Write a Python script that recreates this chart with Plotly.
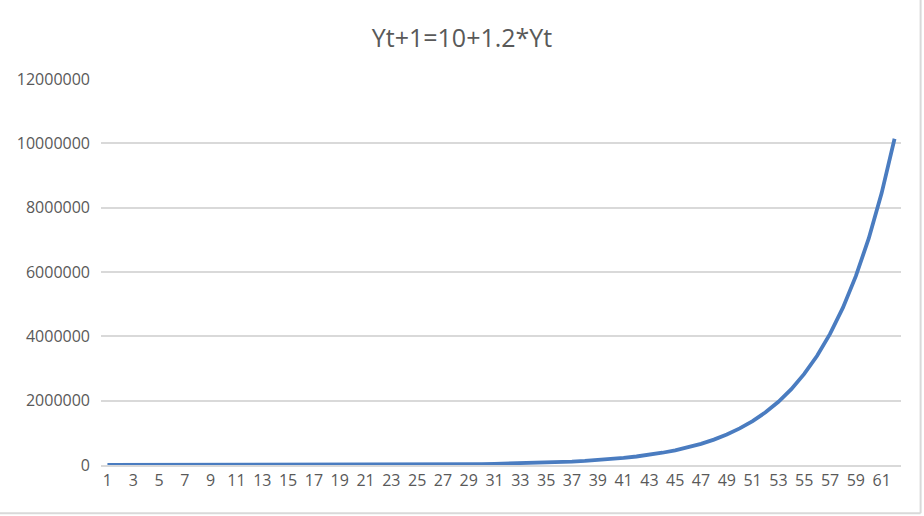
import plotly.graph_objects as go

periods = [str(i) for i in range(1, 63)]
values = [
    100, 130, 166, 209.2, 261.04, 323.25, 397.9, 487.48, 594.97, 723.97,
    878.76, 1064.51, 1287.42, 1554.9, 1875.88, 2261.05, 2723.26, 3277.92, 3943.5, 4742.2,
    5700.64, 6850.77, 8230.92, 9887.11, 11874.53, 14259.43, 17121.32, 20555.58, 24676.7, 29622.04,
    35556.45, 42677.74, 51223.28, 61477.94, 73783.53, 88550.23, 106270.28, 127534.34, 153051.21, 183671.45,
    220415.74, 264508.88, 317420.66, 380914.79, 457107.75, 548539.3, 658257.16, 789918.59, 947912.31, 1137504.77,
    1365015.72, 1638028.87, 1965644.64, 2358783.57, 2830550.28, 3396670.34, 4076014.41, 4891227.29, 5869482.75, 7043389.3,
    8452077.16, 10142502.59,
]
tick_labels = [str(i) for i in range(1, 63, 2)]
title_text = "Yt+1=10+1.2*Yt"

fig = go.Figure(go.Scatter(
    x=periods, y=values, mode="lines",
    line=dict(color="#4A7CC0", width=3.8),
    hoverinfo="x+y",
))

font_family = "Open Sans, Liberation Sans, sans-serif"
fig.update_layout(
    width=924, height=516,
    margin=dict(l=101, r=23, t=79, b=51),
    paper_bgcolor="white", plot_bgcolor="white",
    showlegend=False,
    title=dict(text=title_text, x=0.5, xanchor="center", y=0.926, yanchor="middle",
               font=dict(family=font_family, size=25, color="#595959")),
    font=dict(family=font_family, size=16, color="#595959"),
)
fig.update_xaxes(
    type="category", range=[-0.5, 61.5],
    tickmode="array", tickvals=tick_labels, ticktext=tick_labels,
    showgrid=False, showline=True, linecolor="#d9d9d9", linewidth=1.5,
    ticks="", tickfont=dict(size=16, color="#595959"), tickangle=0,
)
fig.update_yaxes(
    range=[0, 12000000], dtick=2000000, tickformat="d",
    showgrid=True, gridcolor="#d9d9d9", gridwidth=1.5,
    zeroline=False, showline=False, ticks="",
    tickfont=dict(size=16, color="#595959"), ticklabelstandoff=10,
)
fig.add_shape(type="line", xref="paper", yref="paper", x0=1.0245, x1=1.0245, y0=-0.125, y1=1.21,
              line=dict(color="#d9d9d9", width=2))
fig.add_shape(type="line", xref="paper", yref="paper", x0=-0.13, x1=1.0245, y0=-0.125, y1=-0.125,
              line=dict(color="#d9d9d9", width=2))
fig.write_html("out.html", post_script="document.body.style.margin='0';",
               config={"displayModeBar": False})
